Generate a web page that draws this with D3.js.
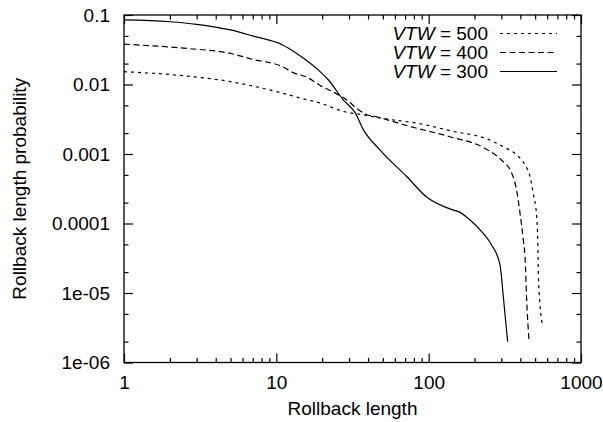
<!DOCTYPE html>
<html>
<head>
<meta charset="utf-8">
<script src="https://cdn.jsdelivr.net/npm/d3@7"></script>
<style>
  body { margin: 0; background: #fff; }
  svg { display: block; font-family: "Liberation Sans", Arial, Helvetica, sans-serif; }
  .tick text { font-size: 19px; fill: #000; }
</style>
</head>
<body>
<svg id="chart" width="603" height="422"></svg>
<script>
// rollback length distributions
const len300 = [1, 2, 3, 5, 7, 11, 13.6, 19.4, 22, 27.5, 33, 37, 48, 72, 97, 145, 157, 187, 228, 259, 294, 309, 330];
const prob300 = [0.085, 0.080, 0.0735, 0.061, 0.050, 0.037, 0.028, 0.0153, 0.0116, 0.006, 0.0039, 0.0023, 0.00114, 0.00047, 0.00024, 0.000156, 0.000148, 0.000112, 0.000072, 0.000049, 0.0000253, 0.0000089, 0.000002];

const len400 = [1, 2.6, 5, 7, 11, 12.9, 15.8, 19.4, 27.5, 39, 46, 75, 138, 235, 300, 351, 378, 398, 418, 429, 440, 456];
const prob400 = [0.038, 0.033, 0.028, 0.023, 0.018, 0.0148, 0.0128, 0.0097, 0.0065, 0.0037, 0.0034, 0.0025, 0.00177, 0.0012, 0.00082, 0.00053, 0.0003, 0.00014, 0.000058, 0.000033, 0.0000079, 0.000002];

const len500 = [1, 2.6, 5, 7, 11, 14.3, 19.4, 27.5, 39, 48, 90, 140, 250, 309, 378, 429, 463, 486, 512, 520, 527, 561];
const prob500 = [0.0153, 0.0132, 0.011, 0.0095, 0.0075, 0.0064, 0.0054, 0.0041, 0.0036, 0.0033, 0.0027, 0.00215, 0.0016, 0.00127, 0.00097, 0.0007, 0.00047, 0.00027, 0.000125, 0.000058, 0.0000138, 0.0000033];

const xMajor = [1, 10, 100, 1000];
const xTickLabels = ["1", "10", "100", "1000"];
const yMajor = [1e-6, 1e-5, 1e-4, 1e-3, 1e-2, 1e-1];
const yTickLabels = ["1e-06", "1e-05", "0.0001", "0.001", "0.01", "0.1"];

const series = [
  { name: "500", len: len500, prob: prob500, dash: "3,4" },
  { name: "400", len: len400, prob: prob400, dash: "6,3.5" },
  { name: "300", len: len300, prob: prob300, dash: null }
];

const svg = d3.select("#chart");
const padL = 124, padR = 581, padT = 15, padB = 362.5;

const x = d3.scaleLog().domain([1, 1000]).range([padL, padR]);
const y = d3.scaleLog().domain([1e-6, 0.1]).range([padB, padT]);

// minor ticks: every integer on x, only 2 and 5 on y (like the original)
const xMinor = [];
[1, 10, 100].forEach(d => { for (let k = 2; k <= 9; k++) xMinor.push(d * k); });
const yMinor = [];
[1e-6, 1e-5, 1e-4, 1e-3, 1e-2].forEach(d => { yMinor.push(d * 2, d * 5); });

function ticks(axis, vals, size, labels) {
  return axis.tickValues(vals).tickSize(-size)
    .tickFormat(labels ? (d, i) => labels[i] : "");
}

const g = svg.append("g");
g.append("g").attr("transform", `translate(0,${padB})`)
  .call(ticks(d3.axisBottom(x), xMajor, 9, xTickLabels).tickPadding(13));
g.append("g").attr("transform", `translate(0,${padB})`)
  .call(ticks(d3.axisBottom(x), xMinor, 4.5));
g.append("g").attr("transform", `translate(0,${padT})`)
  .call(ticks(d3.axisTop(x), xMajor, 9));
g.append("g").attr("transform", `translate(0,${padT})`)
  .call(ticks(d3.axisTop(x), xMinor, 4.5));
g.append("g").attr("transform", `translate(${padL},0)`)
  .call(ticks(d3.axisLeft(y), yMajor, 9, yTickLabels).tickPadding(14));
g.append("g").attr("transform", `translate(${padL},0)`)
  .call(ticks(d3.axisLeft(y), yMinor, 4.5));
g.append("g").attr("transform", `translate(${padR},0)`)
  .call(ticks(d3.axisRight(y), yMajor, 9));
g.append("g").attr("transform", `translate(${padR},0)`)
  .call(ticks(d3.axisRight(y), yMinor, 4.5));

g.selectAll(".domain").remove();
g.selectAll(".tick line").attr("stroke", "#000").attr("stroke-width", 1.2);
g.selectAll("g").attr("font-family", null).attr("font-size", null);

svg.append("rect")
  .attr("x", padL).attr("y", padT)
  .attr("width", padR - padL).attr("height", padB - padT)
  .attr("fill", "none").attr("stroke", "#000").attr("stroke-width", 1.3);

const line = d3.line().curve(d3.curveMonotoneX)
  .x(d => x(d[0])).y(d => y(d[1]));

svg.append("g").selectAll("path")
  .data(series).join("path")
  .attr("d", s => line(d3.zip(s.len, s.prob)))
  .attr("fill", "none")
  .attr("stroke", "#000")
  .attr("stroke-width", 1.2)
  .attr("stroke-dasharray", s => s.dash);

// key, top right
const key = svg.append("g");
series.forEach((s, i) => {
  const ty = 39.5 + i * 19;
  const t = key.append("text")
    .attr("x", 488).attr("y", ty)
    .attr("text-anchor", "end")
    .attr("font-size", 19);
  t.append("tspan").attr("font-style", "italic").text("VTW");
  t.append("tspan").text(" = " + s.name);
  key.append("line")
    .attr("x1", 500).attr("x2", 557)
    .attr("y1", ty - 6).attr("y2", ty - 6)
    .attr("stroke", "#000").attr("stroke-width", 1.2)
    .attr("stroke-dasharray", s.dash);
});

svg.append("text")
  .attr("x", (padL + padR) / 2).attr("y", 415)
  .attr("text-anchor", "middle").attr("font-size", 19)
  .text("Rollback length");

svg.append("text")
  .attr("transform", `translate(26,${(padT + padB) / 2}) rotate(-90)`)
  .attr("text-anchor", "middle").attr("font-size", 19)
  .text("Rollback length probability");
</script>
</body>
</html>
